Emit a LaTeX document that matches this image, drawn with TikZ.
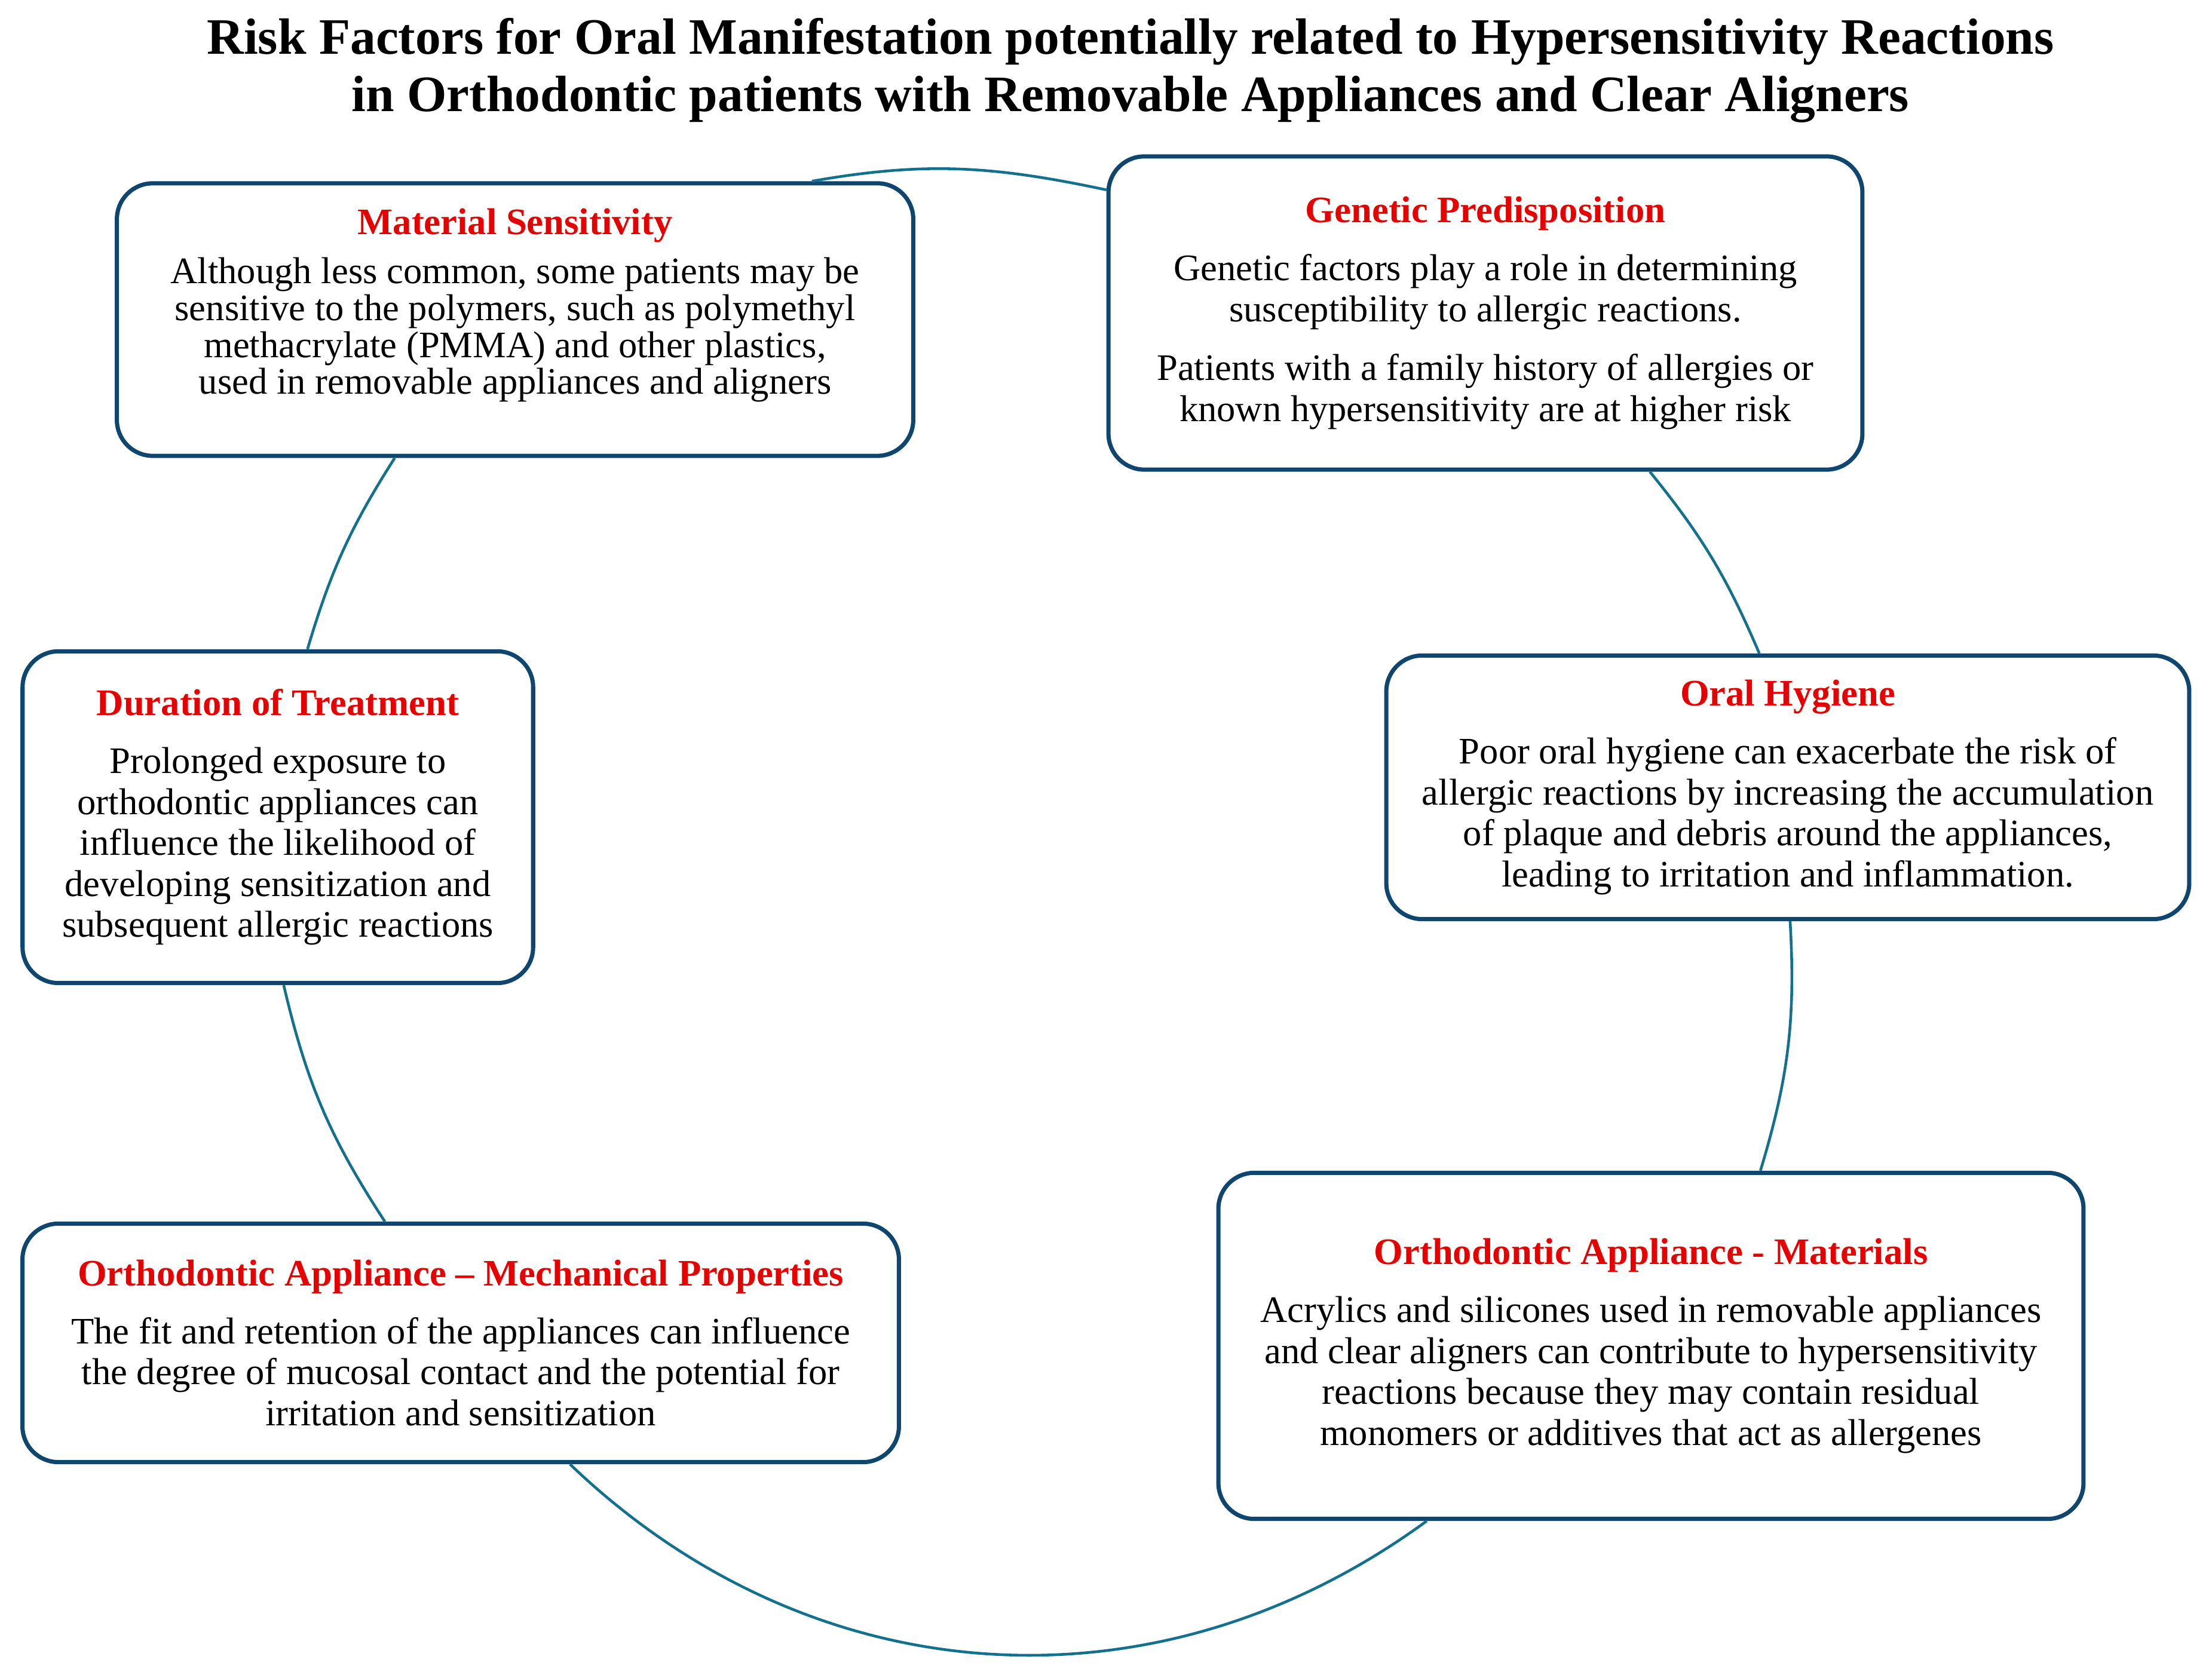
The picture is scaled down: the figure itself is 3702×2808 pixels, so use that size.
\documentclass[tikz,border=0pt]{standalone}
\usepackage{fontspec}
\setmainfont{Liberation Serif}
\usetikzlibrary{positioning, calc}
\definecolor{boxnavy}{HTML}{0E4670}
\definecolor{arcblue}{HTML}{13708F}
\definecolor{riskred}{HTML}{E60000}
\newcommand{\riskhead}[1]{{\color{riskred}\bfseries #1}\\[8pt]}

\begin{document}
\begin{tikzpicture}[%
		x=0.01cm, y=0.01cm,
		factor/.style={
			rectangle,
			rounded corners=6mm,
			line width=2pt,
			boxnavy,
			text=black,
			fill=white,
			align=center,
			font=\fontsize{17.8}{19.5}\selectfont,
			draw
		},
		bigtitle/.style={
			align=center,
			text=black,
			font=\fontsize{24.3}{27.5}\selectfont\bfseries
		},
		link/.style={
			line width=1.3pt,
			arcblue
		}]

		\useasboundingbox (0,0) rectangle (3702,2808);

		\node (title) [bigtitle] at (1892,2690) {Risk Factors for Oral Manifestation potentially related to Hypersensitivity Reactions\\ in Orthodontic patients with Removable Appliances and Clear Aligners};

		% FACTOR BOXES

		\node (matsens) [factor, minimum width=13.32cm, minimum height=4.56cm, font=\fontsize{17.8}{17.5}\selectfont] at (862,2273) {{\color{riskred}\bfseries Material Sensitivity}\\[6pt] Although less common, some patients may be\\ sensitive to the polymers, such as polymethyl\\ methacrylate (PMMA) and other plastics,\\ used in removable appliances and aligners\\};
		\node (genetic) [factor, minimum width=12.61cm, minimum height=5.24cm] at (2486,2284) {\riskhead{Genetic Predisposition} Genetic factors play a role in determining\\ susceptibility to allergic reactions.\\[8.5pt] Patients with a family history of allergies or\\ known hypersensitivity are at higher risk};
		\node (duration) [factor, minimum width=8.54cm, minimum height=5.55cm] at (465,1440) {\riskhead{Duration of Treatment} Prolonged exposure to\\ orthodontic appliances can\\ influence the likelihood of\\ developing sensitization and\\ subsequent allergic reactions};
		\node (hygiene) [factor, minimum width=13.43cm, minimum height=4.41cm] at (2992,1490) {\riskhead{Oral Hygiene} Poor oral hygiene can exacerbate the risk of\\ allergic reactions by increasing the accumulation\\ of plaque and debris around the appliances,\\ leading to irritation and inflammation.};
		\node (mech) [factor, minimum width=14.66cm, minimum height=3.99cm] at (771,560) {\riskhead{Orthodontic Appliance -- Mechanical Properties} The fit and retention of the appliances can influence\\ the degree of mucosal contact and the potential for\\ irritation and sensitization};
		\node (materials) [factor, minimum width=14.47cm, minimum height=5.79cm] at (2763,555) {\riskhead{Orthodontic Appliance - Materials} Acrylics and silicones used in removable appliances\\ and clear aligners can contribute to hypersensitivity\\ reactions because they may contain residual\\ monomers or additives that act as allergenes};

		% CYCLE LINES

		\draw[link] (matsens.25) to[out=10,in=168] (genetic.162);
		\draw[link] (genetic.-44) to[bend left=8] (hygiene.102);
		\draw[link] (hygiene.-89) to[bend left=10] (materials.58);
		\draw[link] (materials.-142) to[bend left=40] (mech.-48);
		\draw[link] (mech.122) to[bend left=10] (duration.-88);
		\draw[link] (duration.80) to[bend left=8] (matsens.-131);
\end{tikzpicture}
\end{document}
